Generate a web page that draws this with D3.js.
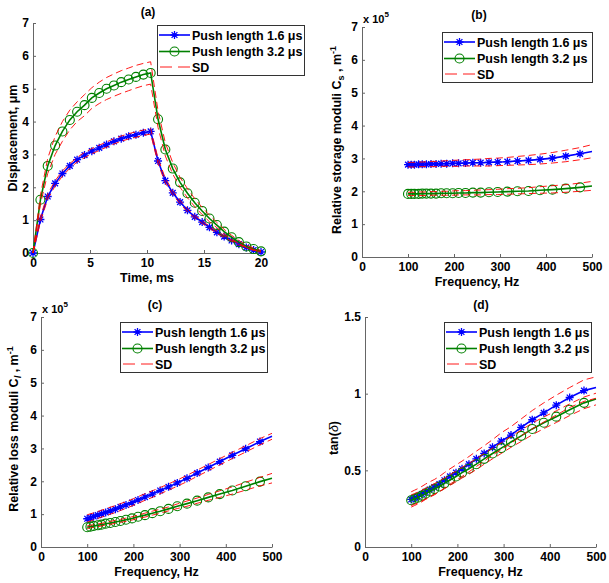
<!DOCTYPE html>
<html><head><meta charset="utf-8">
<script src="https://cdn.jsdelivr.net/npm/d3@7"></script>
<style>
body{margin:0;background:#fff}
svg text{font-family:Arial,"Liberation Sans",sans-serif;font-weight:bold;fill:#000}
</style>
</head><body>
<svg id="chart" width="609" height="583"></svg>
<script>
// ---------- data ----------
const timeMs = [0,0.65,1.29,1.94,2.58,3.23,3.87,4.52,5.16,5.81,6.45,7.1,7.74,8.39,9.03,9.68,10.32,10.97,11.61,12.26,12.9,13.55,14.19,14.84,15.48,16.13,16.77,17.42,18.06,18.71,19.35,20];
const disp16 = [0,1.02,1.72,2.12,2.42,2.65,2.84,2.98,3.1,3.2,3.3,3.4,3.48,3.55,3.6,3.66,3.7,2.8,2.2,1.83,1.55,1.3,1.1,0.94,0.78,0.63,0.5,0.38,0.27,0.17,0.09,0.03];
const disp16Upper = [0,1.1,1.8,2.2,2.5,2.72,2.91,3.06,3.18,3.28,3.38,3.48,3.56,3.63,3.69,3.74,3.79,2.88,2.27,1.89,1.6,1.35,1.14,0.98,0.81,0.66,0.53,0.4,0.29,0.18,0.1,0.04];
const disp16Lower = [0,0.95,1.64,2.04,2.34,2.58,2.77,2.9,3.02,3.12,3.22,3.32,3.4,3.47,3.52,3.58,3.62,2.72,2.13,1.77,1.5,1.25,1.06,0.9,0.75,0.6,0.47,0.36,0.25,0.16,0.08,0.02];
const disp32 = [0,1.62,2.65,3.27,3.7,4.05,4.3,4.5,4.72,4.87,5.0,5.1,5.2,5.28,5.36,5.43,5.48,4.07,3.15,2.57,2.15,1.82,1.53,1.28,1.05,0.85,0.65,0.48,0.33,0.2,0.12,0.05];
const disp32Upper = [0,1.76,2.88,3.55,4.0,4.35,4.6,4.82,5.03,5.2,5.34,5.45,5.55,5.63,5.71,5.77,5.82,4.32,3.35,2.75,2.3,1.96,1.65,1.39,1.15,0.93,0.72,0.54,0.38,0.24,0.15,0.07];
const disp32Lower = [0,1.48,2.42,3.0,3.4,3.75,4.0,4.18,4.4,4.55,4.67,4.77,4.86,4.94,5.02,5.09,5.14,3.82,2.95,2.4,2.0,1.68,1.41,1.17,0.95,0.77,0.58,0.42,0.28,0.16,0.09,0.03];

const freqHz = [100,107,114,123,131,140,150,161,172,184,197,210,225,241,258,276,295,316,338,362,387,414,443,474,500];
// storage moduli (x 1e5 m^-1)
const storage16 = [2.81,2.81,2.81,2.82,2.82,2.82,2.83,2.83,2.84,2.84,2.85,2.85,2.86,2.87,2.87,2.88,2.89,2.90,2.92,2.94,2.97,3.01,3.07,3.14,3.21];
const storage16Upper = [2.88,2.88,2.88,2.89,2.89,2.90,2.91,2.91,2.92,2.93,2.94,2.95,2.96,2.97,2.98,3.00,3.01,3.03,3.06,3.09,3.13,3.18,3.25,3.33,3.42];
const storage16Lower = [2.74,2.74,2.74,2.75,2.75,2.75,2.75,2.75,2.76,2.76,2.76,2.76,2.77,2.77,2.77,2.77,2.78,2.79,2.80,2.81,2.83,2.86,2.90,2.96,3.02];
const storage32 = [1.92,1.92,1.92,1.92,1.93,1.93,1.93,1.93,1.94,1.94,1.94,1.95,1.95,1.96,1.96,1.97,1.98,1.99,2.00,2.01,2.03,2.05,2.08,2.12,2.16];
const storage32Upper = [1.97,1.97,1.97,1.98,1.98,1.98,1.99,1.99,2.00,2.00,2.01,2.02,2.02,2.03,2.04,2.05,2.06,2.08,2.09,2.11,2.14,2.17,2.20,2.25,2.30];
const storage32Lower = [1.87,1.87,1.87,1.87,1.87,1.87,1.88,1.88,1.88,1.88,1.88,1.89,1.89,1.89,1.89,1.90,1.90,1.91,1.92,1.93,1.94,1.95,1.97,2.00,2.03];
// loss moduli (x 1e5 m^-1)
const loss16 = [0.86,0.89,0.93,0.97,1.01,1.05,1.10,1.15,1.22,1.28,1.35,1.43,1.52,1.61,1.72,1.83,1.95,2.09,2.25,2.42,2.60,2.79,2.99,3.21,3.37];
const loss16Upper = [0.98,1.01,1.04,1.08,1.12,1.16,1.21,1.26,1.32,1.38,1.45,1.53,1.62,1.71,1.81,1.92,2.04,2.18,2.34,2.51,2.69,2.88,3.08,3.30,3.46];
const loss16Lower = [0.76,0.79,0.83,0.87,0.91,0.95,1.00,1.05,1.11,1.18,1.25,1.33,1.42,1.51,1.62,1.73,1.85,1.99,2.15,2.32,2.50,2.69,2.89,3.11,3.28];
const loss32 = [0.60,0.62,0.64,0.66,0.68,0.71,0.73,0.76,0.79,0.83,0.87,0.92,0.97,1.03,1.09,1.16,1.24,1.32,1.41,1.51,1.61,1.72,1.85,1.99,2.09];
const loss32Upper = [0.64,0.66,0.68,0.70,0.72,0.75,0.78,0.81,0.84,0.88,0.92,0.97,1.03,1.09,1.15,1.22,1.31,1.40,1.49,1.60,1.71,1.83,1.97,2.12,2.24];
const loss32Lower = [0.56,0.58,0.60,0.62,0.64,0.67,0.69,0.72,0.75,0.78,0.82,0.87,0.91,0.97,1.03,1.10,1.17,1.24,1.33,1.42,1.51,1.61,1.73,1.86,1.95];
// tan(delta)
const tan16 = [0.31,0.32,0.33,0.345,0.36,0.375,0.39,0.41,0.435,0.46,0.485,0.51,0.54,0.575,0.61,0.65,0.69,0.73,0.78,0.83,0.875,0.925,0.975,1.02,1.04];
const tan16Upper = [0.36,0.37,0.38,0.395,0.41,0.425,0.44,0.46,0.485,0.51,0.535,0.56,0.59,0.625,0.66,0.70,0.745,0.785,0.835,0.89,0.94,0.99,1.04,1.09,1.11];
const tan16Lower = [0.26,0.27,0.28,0.295,0.31,0.325,0.34,0.36,0.385,0.41,0.435,0.46,0.49,0.525,0.56,0.60,0.635,0.675,0.725,0.77,0.815,0.86,0.91,0.95,0.97];
const tan32 = [0.305,0.313,0.322,0.335,0.348,0.362,0.378,0.395,0.415,0.437,0.46,0.485,0.51,0.54,0.575,0.61,0.645,0.685,0.725,0.77,0.81,0.85,0.895,0.94,0.965];
const tan32Upper = [0.34,0.348,0.357,0.37,0.383,0.397,0.413,0.43,0.45,0.472,0.495,0.52,0.545,0.575,0.61,0.645,0.68,0.72,0.762,0.808,0.848,0.888,0.933,0.978,1.003];
const tan32Lower = [0.27,0.278,0.287,0.3,0.313,0.327,0.343,0.36,0.38,0.402,0.425,0.45,0.475,0.505,0.54,0.575,0.61,0.65,0.688,0.732,0.772,0.812,0.857,0.902,0.927];

const timeTicks = [0,5,10,15,20];
const freqTicks = [0,100,200,300,400,500];
const moduliTicks = [0,1,2,3,4,5,6,7];
const dispTicks = [0,1,2,3,4,5,6,7];
const tanTicks = [0,0.5,1,1.5];
const legendLabels = ["Push length 1.6 \u03bcs","Push length 3.2 \u03bcs","SD"];
const panelTitles = ["(a)","(b)","(c)","(d)"];
const markerFreqMax = 490;

// ---------- drawing ----------
const svg = d3.select("#chart");
const BLUE="#0000ff", GREEN="#008000", RED="#ff0000", AXIS="#666";

function starPath(){return "M-4,0H4M0,-4V4M-2.9,-2.9L2.9,2.9M-2.9,2.9L2.9,-2.9";}

function drawPanel(p){
  const g = svg.append("g");
  const x = d3.scaleLinear().domain(p.xDomain).range([p.left,p.right]);
  const y = d3.scaleLinear().domain(p.yDomain).range([p.bottom,p.top]);
  const xa = g.append("g").attr("transform",`translate(0,${p.bottom})`)
    .call(d3.axisBottom(x).tickValues(p.xTicks).tickSizeInner(-3).tickSizeOuter(0).tickPadding(5).tickFormat(d=>String(d)));
  const ya = g.append("g").attr("transform",`translate(${p.left},0)`)
    .call(d3.axisLeft(y).tickValues(p.yTicks).tickSizeInner(-3).tickSizeOuter(0).tickPadding(4).tickFormat(d=>String(d)));
  [xa,ya].forEach(a=>{
    a.selectAll("path,line").attr("stroke",AXIS);
    a.selectAll("text").attr("font-size",12).attr("font-weight","bold").attr("fill","#000")
      .attr("font-family",'Arial,"Liberation Sans",sans-serif');
  });
  const line = d3.line().x(d=>x(d[0])).y(d=>y(d[1]));
  const zip = (xs,ys)=>xs.map((v,i)=>[v,ys[i]]);
  const series = [
    {vals:p.s1, color:BLUE, marker:"star"},
    {vals:p.s2, color:GREEN, marker:"circle"}
  ];
  series.forEach(s=>{
    const pts = zip(p.xs,s.vals);
    g.append("path").attr("d",line(pts)).attr("fill","none").attr("stroke",s.color).attr("stroke-width",1.6);
    const mpts = pts.filter(d=>p.markAll || d[0] < markerFreqMax);
    if(s.marker==="star"){
      g.selectAll(null).data(mpts).enter().append("path")
        .attr("d",starPath()).attr("transform",d=>`translate(${x(d[0])},${y(d[1])})`)
        .attr("stroke",s.color).attr("stroke-width",1.3).attr("fill","none");
    } else {
      g.selectAll(null).data(mpts).enter().append("circle")
        .attr("cx",d=>x(d[0])).attr("cy",d=>y(d[1])).attr("r",4.5)
        .attr("stroke",s.color).attr("stroke-width",1.1).attr("fill","none");
    }
  });
  p.sd.forEach(arr=>{
    g.append("path").attr("d",line(zip(p.xs,arr))).attr("fill","none")
      .attr("stroke",RED).attr("stroke-width",0.9).attr("stroke-dasharray","7,4");
  });
  // title
  g.append("text").attr("x",p.titleX).attr("y",p.titleY).attr("text-anchor","middle").attr("font-size",12).text(p.title);
  // x label
  g.append("text").attr("x",(p.left+p.right)/2).attr("y",p.bottom+29).attr("text-anchor","middle").attr("font-size",12.5).text(p.xLabel);
  // y label
  const yl = g.append("text").attr("transform",`translate(${p.yLabelX},${p.yLabelY}) rotate(-90)`)
    .attr("text-anchor","middle").attr("font-size",12.5);
  p.yLabel(yl);
  // exponent
  if(p.exponent){
    const ex = g.append("text").attr("x",p.left+1).attr("y",p.top-4).attr("font-size",11);
    ex.append("tspan").text("x 10");
    ex.append("tspan").attr("dy",-6).attr("font-size",8).text("5");
  }
  // legend
  const L = p.legend;
  g.append("rect").attr("x",L.x+0.5).attr("y",L.y+0.5).attr("width",L.w).attr("height",50)
    .attr("fill","#fff").attr("stroke","#333").attr("stroke-width",1);
  const rows=[10,26.5,42];
  legendLabels.forEach((lab,i)=>{
    const cy=L.y+rows[i];
    if(i<2){
      g.append("line").attr("x1",L.x+2).attr("x2",L.x+33).attr("y1",cy).attr("y2",cy)
        .attr("stroke",i===0?BLUE:GREEN).attr("stroke-width",1.6);
      if(i===0) g.append("path").attr("d",starPath()).attr("transform",`translate(${L.x+17.5},${cy})`)
        .attr("stroke",BLUE).attr("stroke-width",1.3).attr("fill","none");
      else g.append("circle").attr("cx",L.x+17.5).attr("cy",cy).attr("r",4.5)
        .attr("stroke",GREEN).attr("stroke-width",1.1).attr("fill","none");
    } else {
      g.append("line").attr("x1",L.x+3).attr("x2",L.x+33).attr("y1",cy).attr("y2",cy)
        .attr("stroke",RED).attr("stroke-width",0.9).attr("stroke-dasharray","12,6");
    }
    g.append("text").attr("x",L.x+35).attr("y",cy+4.5).attr("font-size",12.5).text(lab);
  });
}

drawPanel({
  left:33,right:261,top:23,bottom:253,xDomain:[0,20],yDomain:[0,7],xTicks:timeTicks,yTicks:dispTicks,
  xs:timeMs,s1:disp16,s2:disp32,sd:[disp16Upper,disp16Lower,disp32Upper,disp32Lower],markAll:true,
  title:panelTitles[0],titleX:148,titleY:16,xLabel:"Time, ms",yLabelX:17,yLabelY:138,
  yLabel:t=>t.text("Displacement, \u03bcm"),legend:{x:157,y:25,w:147}
});
drawPanel({
  left:362,right:592,top:27,bottom:257,xDomain:[0,500],yDomain:[0,7],xTicks:freqTicks,yTicks:moduliTicks,
  xs:freqHz,s1:storage16,s2:storage32,sd:[storage16Upper,storage16Lower,storage32Upper,storage32Lower],
  title:panelTitles[1],titleX:479,titleY:19,xLabel:"Frequency, Hz",yLabelX:341,yLabelY:140,exponent:true,
  yLabel:t=>{t.append("tspan").text("Relative storage moduli  C");
    t.append("tspan").attr("dy",3).attr("font-size",9).text("s");
    t.append("tspan").attr("dy",-3).text(" , m");
    t.append("tspan").attr("dy",-5).attr("font-size",9).text("-1");},
  legend:{x:442,y:32,w:150}
});
drawPanel({
  left:41,right:272,top:317,bottom:547,xDomain:[0,500],yDomain:[0,7],xTicks:freqTicks,yTicks:moduliTicks,
  xs:freqHz,s1:loss16,s2:loss32,sd:[loss16Upper,loss16Lower,loss32Upper,loss32Lower],
  title:panelTitles[2],titleX:155,titleY:309,xLabel:"Frequency, Hz",yLabelX:18,yLabelY:429,exponent:true,
  yLabel:t=>{t.append("tspan").text("Relative loss moduli  C");
    t.append("tspan").attr("dy",3).attr("font-size",9).attr("font-style","italic").text("l");
    t.append("tspan").attr("dy",-3).text(" , m");
    t.append("tspan").attr("dy",-5).attr("font-size",9).text("-1");},
  legend:{x:120,y:322,w:147}
});
drawPanel({
  left:365,right:596,top:317,bottom:547,xDomain:[0,500],yDomain:[0,1.5],xTicks:freqTicks,yTicks:tanTicks,
  xs:freqHz,s1:tan16,s2:tan32,sd:[tan16Upper,tan16Lower,tan32Upper,tan32Lower],
  title:panelTitles[3],titleX:481,titleY:309,xLabel:"Frequency, Hz",yLabelX:338,yLabelY:438,
  yLabel:t=>{t.append("tspan").text("tan(");
    t.append("tspan").attr("font-style","italic").attr("font-weight","normal").text("\u03b4");
    t.append("tspan").text(")");},
  legend:{x:444,y:322,w:147}
});
</script>
</body></html>
